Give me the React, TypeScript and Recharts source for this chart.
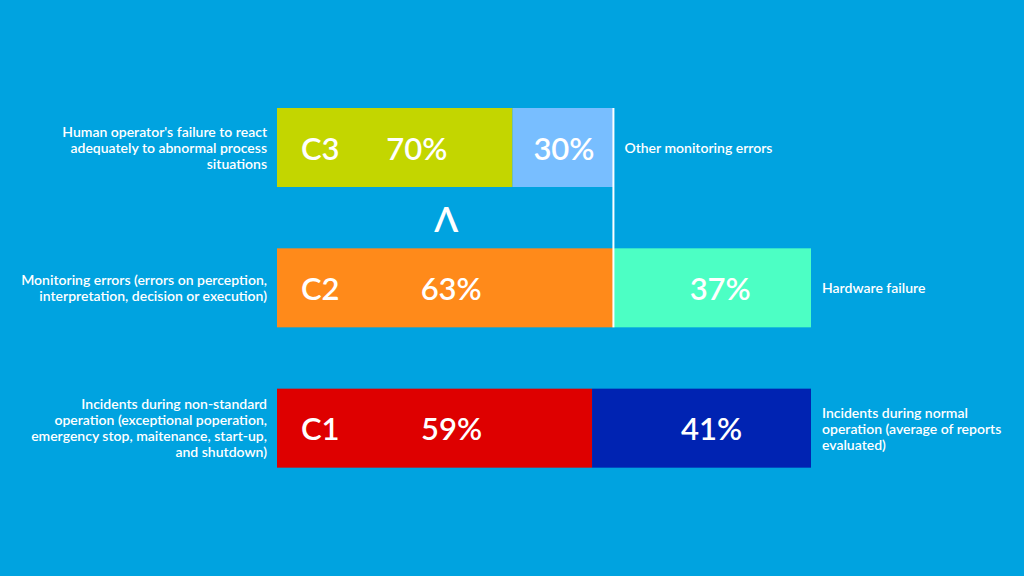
import React from 'react';
import { BarChart, Bar, XAxis, YAxis } from 'recharts';

// Chart data
const ROWS = ['C3', 'C2', 'C1'];
const FIRST_PCT = [70, 63, 59];
const SECOND_PCT = [30, 37, 41];
const LEFT_LABELS = [
  ["Human operator's failure to react", 'adequately to abnormal process', 'situations'],
  ['Monitoring errors (errors on perception,', 'interpretation, decision or execution)'],
  [
    'Incidents during non-standard',
    'operation (exceptional poperation,',
    'emergency stop, maitenance, start-up,',
    'and shutdown)',
  ],
];
const RIGHT_LABELS = [
  ['Other monitoring errors'],
  ['Hardware failure'],
  ['Incidents during normal', 'operation (average of reports', 'evaluated)'],
];

const FIRST_COLORS = ['#C3D600', '#FF8A1A', '#DE0000'];
const SECOND_COLORS = ['#78BEFF', '#4CFFC4', '#0023B2'];
const BG = '#00A3E0';
const FONT = 'Lato, "Open Sans", sans-serif';

// small horizontal nudges of the percent labels, as in the original layout
const FIRST_DX = [22, 6, 17];
const SECOND_DX = [1, 8, 10];

const W = 1024;
const H = 576;
const MARGIN = { top: 77, right: 213, bottom: 78, left: 7 };
const STEP = (H - MARGIN.top - MARGIN.bottom) / ROWS.length;

// C3 breaks down the monitoring-error share of C2, so it is drawn at that width
const c3Share = FIRST_PCT[1] / 100;
const data = ROWS.map((name, i) => {
  const k = name === 'C3' ? c3Share : 1;
  return {
    name,
    first: FIRST_PCT[i] * k,
    second: SECOND_PCT[i] * k,
  };
});

const multiLine = (lines: string[], x: number, cy: number, anchor: 'start' | 'end') =>
  lines.map((t, j) => (
    <text
      key={j}
      x={x}
      y={cy + (j - (lines.length - 1) / 2) * 16}
      textAnchor={anchor}
      dominantBaseline="central"
      fill="#fff"
      fontFamily={FONT}
      fontSize={14}
      fontWeight={600}
    >
      {t}
    </text>
  ));

const bigText = (content: string, x: number, y: number, anchor: 'start' | 'middle') => (
  <text
    x={x}
    y={y}
    textAnchor={anchor}
    dominantBaseline="central"
    fill="#fff"
    fontFamily={FONT}
    fontSize={31}
    fontWeight={600}
  >
    {content}
  </text>
);

const FirstShape = (props: any) => {
  const { x, y, width, height, index } = props;
  const cy = y + height / 2;
  return (
    <g>
      <rect x={x} y={y} width={width} height={height} fill={FIRST_COLORS[index]} />
      {bigText(ROWS[index], x + 24, cy, 'start')}
      {bigText(`${FIRST_PCT[index]}%`, x + width / 2 + FIRST_DX[index], cy, 'middle')}
      {index === 1 && (
        <text
          x={x + width / 2 + 1}
          y={y - (STEP - height) / 2}
          textAnchor="middle"
          dominantBaseline="central"
          fill="#fff"
          fontFamily={FONT}
          fontSize={35}
          fontWeight={600}
        >
          Λ
        </text>
      )}
    </g>
  );
};

const SecondShape = (props: any) => {
  const { x, y, width, height, index } = props;
  const cy = y + height / 2;
  return (
    <g>
      <rect x={x} y={y} width={width} height={height} fill={SECOND_COLORS[index]} />
      {bigText(`${SECOND_PCT[index]}%`, x + width / 2 + SECOND_DX[index], cy, 'middle')}
      {multiLine(RIGHT_LABELS[index], x + width + 11, cy, 'start')}
      {index === 1 && (
        <line x1={x} x2={x} y1={y - STEP} y2={y + height} stroke="#fff" strokeWidth={2} />
      )}
    </g>
  );
};

const LeftTick = (props: any) => {
  const { x, y, index } = props;
  return <g>{multiLine(LEFT_LABELS[index], x, y, 'end')}</g>;
};

export default function App() {
  return (
    <div style={{ position: 'absolute', left: 0, top: 0, width: W, height: H, background: BG }}>
      <BarChart width={W} height={H} data={data} layout="vertical" margin={MARGIN} barSize={79}>
        <XAxis type="number" domain={[0, 100]} hide />
        <YAxis
          type="category"
          dataKey="name"
          width={270}
          axisLine={false}
          tickLine={false}
          tickSize={0}
          tickMargin={10}
          tick={<LeftTick />}
        />
        <Bar dataKey="first" stackId="a" shape={<FirstShape />} isAnimationActive={false} />
        <Bar dataKey="second" stackId="a" shape={<SecondShape />} isAnimationActive={false} />
      </BarChart>
    </div>
  );
}
